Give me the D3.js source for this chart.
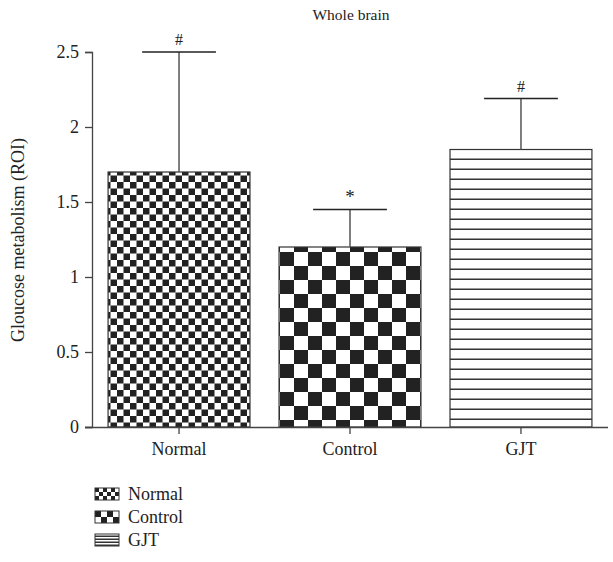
<!DOCTYPE html>
<html>
<head>
<meta charset="utf-8">
<script src="https://cdn.jsdelivr.net/npm/d3@7"></script>
<style>
  body { margin: 0; background: #fff; }
  text { font-family: "Liberation Serif", "DejaVu Serif", serif; fill: #222; }
</style>
</head>
<body>
<div id="chart"></div>
<script>
// data
const groups = ["Normal", "Control", "GJT"];
const means = [1.70, 1.20, 1.85];
const errors = [0.80, 0.25, 0.34];
const marks = ["#", "*", "#"];
const yTicks = [0, 0.5, 1, 1.5, 2, 2.5];

const width = 613, height = 562;
const svg = d3.select("#chart").append("svg")
    .attr("width", width).attr("height", height);

const defs = svg.append("defs");

// checkerboard and line fills
function checker(id, s) {
    const p = defs.append("pattern").attr("id", id)
        .attr("patternUnits", "userSpaceOnUse")
        .attr("width", 2 * s).attr("height", 2 * s);
    p.append("rect").attr("width", 2 * s).attr("height", 2 * s).attr("fill", "#fff");
    p.append("rect").attr("width", s).attr("height", s).attr("fill", "#222");
    p.append("rect").attr("x", s).attr("y", s).attr("width", s).attr("height", s).attr("fill", "#222");
}
function hlines(id, s) {
    const p = defs.append("pattern").attr("id", id)
        .attr("patternUnits", "userSpaceOnUse")
        .attr("width", 10).attr("height", s);
    p.append("rect").attr("width", 10).attr("height", s).attr("fill", "#fff");
    p.append("rect").attr("y", s - 1.5).attr("width", 10).attr("height", 1.5).attr("fill", "#333");
}
checker("pNormal", 6.5);
checker("pControl", 14);
hlines("pGJT", 10);
checker("lNormal", 4);
checker("lControl", 6);
hlines("lGJT", 3);
const fills = { Normal: "pNormal", Control: "pControl", GJT: "pGJT" };
const legendFills = { Normal: "lNormal", Control: "lControl", GJT: "lGJT" };

const x = d3.scaleBand().domain(groups).range([92, 608])
    .paddingInner(0.17).paddingOuter(0.094);
const y = d3.scaleLinear().domain([0, 2.5]).range([427, 52]);

// bars
const bars = svg.append("g").selectAll("g").data(groups).join("g");
bars.append("rect")
    .attr("x", d => x(d))
    .attr("y", (d, i) => y(means[i]))
    .attr("width", x.bandwidth())
    .attr("height", (d, i) => y(0) - y(means[i]))
    .attr("fill", d => `url(#${fills[d]})`)
    .attr("stroke", "#333").attr("stroke-width", 1.2);

// error bars (upper only)
const cap = x.bandwidth() * 0.26;
bars.append("line")
    .attr("x1", d => x(d) + x.bandwidth() / 2).attr("x2", d => x(d) + x.bandwidth() / 2)
    .attr("y1", (d, i) => y(means[i])).attr("y2", (d, i) => y(means[i] + errors[i]))
    .attr("stroke", "#555").attr("stroke-width", 1.5);
bars.append("line")
    .attr("x1", d => x(d) + x.bandwidth() / 2 - cap).attr("x2", d => x(d) + x.bandwidth() / 2 + cap)
    .attr("y1", (d, i) => y(means[i] + errors[i])).attr("y2", (d, i) => y(means[i] + errors[i]))
    .attr("stroke", "#222").attr("stroke-width", 1.5);
bars.append("text")
    .attr("x", d => x(d) + x.bandwidth() / 2)
    .attr("y", (d, i) => y(means[i] + errors[i]) - 7)
    .attr("text-anchor", "middle").attr("font-size", (d, i) => marks[i] === "*" ? 19 : 16)
    .text((d, i) => marks[i]);

// axes
const yAxis = svg.append("g").attr("transform", "translate(92,0)")
    .call(d3.axisLeft(y).tickValues(yTicks).tickFormat(d => d).tickSize(7).tickPadding(6));
const xAxis = svg.append("g").attr("transform", "translate(0,427)")
    .call(d3.axisBottom(x).tickSize(7).tickPadding(8).tickSizeOuter(0));
xAxis.select(".domain").attr("d", "M85,0.5H608");
[yAxis, xAxis].forEach(a => {
    a.attr("font-family", null);
    a.selectAll("path,line").attr("stroke", "#444").attr("stroke-width", 1.3);
    a.selectAll("text").attr("font-size", 18).attr("fill", "#222");
});

// titles
svg.append("text").attr("x", 351).attr("y", 20).attr("text-anchor", "middle")
    .attr("font-size", 15.5).text("Whole brain");
svg.append("text").attr("transform", "translate(24,240) rotate(-90)")
    .attr("text-anchor", "middle").attr("font-size", 18).text("Gloucose metabolism (ROI)");

// legend
const leg = svg.append("g").selectAll("g").data(groups).join("g")
    .attr("transform", (d, i) => `translate(95,${488 + i * 23})`);
leg.append("rect").attr("width", 24).attr("height", 12)
    .attr("fill", d => `url(#${legendFills[d]})`)
    .attr("stroke", "#333").attr("stroke-width", 1);
leg.append("text").attr("x", 33).attr("y", 12).attr("font-size", 18).text(d => d);
</script>
</body>
</html>
